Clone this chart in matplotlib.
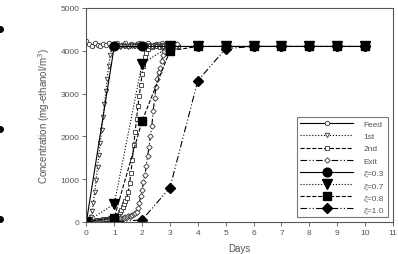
import numpy as np
import matplotlib.pyplot as plt
from matplotlib.lines import Line2D

plt.rcParams['font.family'] = ['Liberation Sans', 'DejaVu Sans']

# measured data (open markers)
t_feed = np.round(np.arange(0, 3.35, 0.1), 2)
feed = [4230, 4150, 4120, 4180, 4140, 4110, 4160, 4130, 4190, 4120, 4150,
        4170, 4110, 4140, 4180, 4120, 4160, 4130, 4150, 4190, 4120, 4140,
        4170, 4130, 4110, 4160, 4150, 4180, 4120, 4140, 4170, 4130, 4150, 4120]

t_1st = np.round(np.arange(0, 3.05, 0.05), 2)
first = [0, 0, 30, 120, 250, 450, 700, 980, 1280, 1560, 1850, 2150, 2450, 2750,
         3050, 3350, 3650, 3900, 4050, 4100, 4110, 4130, 4100, 4120, 4090, 4110,
         4130, 4100, 4120, 4110, 4090, 4120, 4130, 4100, 4110, 4120, 4100, 4130,
         4110, 4090, 4120, 4100, 4130, 4110, 4120, 4100, 4090, 4120, 4110, 4130,
         4100, 4120, 4110, 4100, 4130, 4120, 4100, 4110, 4120, 4100, 4110]

t_2nd = np.round(np.arange(0, 3.05, 0.05), 2)
second = [0, 5, 10, 15, 20, 25, 30, 35, 40, 45, 50, 55, 60, 65, 70, 75, 80, 90,
          100, 110, 80, 100, 130, 170, 230, 290, 360, 420, 480, 560, 700, 900,
          1150, 1450, 1800, 2100, 2400, 2700, 2950, 3200, 3450, 3650, 3850, 3950,
          4050, 4100, 4120, 4090, 4110, 4130, 4100, 4120, 4110, 4090, 4120, 4130,
          4100, 4110, 4120, 4100, 4110]

t_exit = np.round(np.arange(0, 3.3, 0.05), 2)
exit_ = [0, 0, 5, 5, 10, 10, 15, 15, 20, 20, 25, 25, 30, 30, 35, 40, 45, 50, 55,
         60, 65, 70, 75, 80, 85, 90, 95, 100, 110, 120, 130, 140, 150, 160, 180,
         200, 230, 330, 450, 600, 750, 930, 1100, 1300, 1550, 1750, 2000, 2250,
         2600, 2900, 3150, 3350, 3500, 3600, 3750, 3900, 4000, 4050, 4100, 4120,
         4150, 4130, 4160, 4140, 4120, 4150]

# model curves (filled markers)
t_model = [0, 1, 2, 3, 4, 5, 6, 7, 8, 9, 10]
z03 = [0, 4100, 4100, 4100, 4100, 4100, 4100, 4100, 4100, 4100, 4100]
z07 = [0, 420, 3700, 4100, 4100, 4100, 4100, 4100, 4100, 4100, 4100]
z08 = [0, 100, 2360, 4000, 4100, 4100, 4100, 4100, 4100, 4100, 4100]
z10 = [0, 0, 50, 800, 3300, 4050, 4100, 4100, 4100, 4100, 4100]

fig = plt.figure(figsize=(3.98, 2.55), dpi=100)
ax = fig.add_axes([0.217, 0.1255, 0.77, 0.8395])

gray = '#555555'
ms_o = 3.2
ms_f = 6.3
lw = 0.8
dashdotdot = (0, (6, 2, 1, 2, 1, 2))

ax.plot(t_feed, feed, '-', color='k', lw=lw, marker='o', ms=ms_o, mfc='white',
        mec='#333333', mew=0.6, label='Feed')
ax.plot(t_1st, first, ':', color='k', lw=lw, marker='v', ms=ms_o, mfc='white',
        mec='#333333', mew=0.6, label='1st')
ax.plot(t_2nd, second, '--', color='k', lw=lw, marker='s', ms=ms_o, mfc='white',
        mec='#333333', mew=0.6, label='2nd')
ax.plot(t_exit, exit_, linestyle=dashdotdot, color='k', lw=lw, marker='D', ms=ms_o - 0.4,
        mfc='white', mec='#333333', mew=0.6, label='Exit')
ax.plot(t_model, z03, '-', color='k', lw=lw, marker='o', ms=ms_f, label='ζ=0.3')
ax.plot(t_model, z07, ':', color='k', lw=lw, marker='v', ms=ms_f + 0.5, label='ζ=0.7')
ax.plot(t_model, z08, '--', color='k', lw=lw, marker='s', ms=ms_f - 0.5, label='ζ=0.8')
ax.plot(t_model, z10, linestyle=dashdotdot, color='k', lw=lw, marker='D', ms=ms_f - 0.8,
        label='ζ=1.0')

ax.set_xlim(0, 11)
ax.set_ylim(0, 5000)
ax.set_xticks(range(0, 12))
ax.set_yticks([0, 1000, 2000, 3000, 4000, 5000])
ax.tick_params(labelsize=6, colors=gray, length=3, width=0.6, labelcolor=gray, pad=2)
for s in ax.spines.values():
    s.set_color(gray)
    s.set_linewidth(0.8)

ax.set_xlabel('Days', fontsize=7, color=gray, labelpad=5)
ax.set_ylabel('Concentration (mg-ethanol/m$^3$)', fontsize=7, color=gray, labelpad=6)

leg = ax.legend(loc='lower right', bbox_to_anchor=(0.984, 0.023), borderaxespad=0,
                fontsize=6, handlelength=6.3, frameon=True, fancybox=False,
                edgecolor=gray, labelspacing=0.52, borderpad=0.45, handletextpad=1.3)
leg.get_frame().set_linewidth(0.8)
for txt in leg.get_texts():
    txt.set_color(gray)

# bullet dots cut at left border
for yy in [1 - 30 / 255, 1 - 130 / 255, 1 - 220 / 255]:
    fig.add_artist(Line2D([0.0], [yy], marker='o', ms=4, color='k',
                          transform=fig.transFigure, clip_on=False))

fig.savefig('out.png', dpi=100)
